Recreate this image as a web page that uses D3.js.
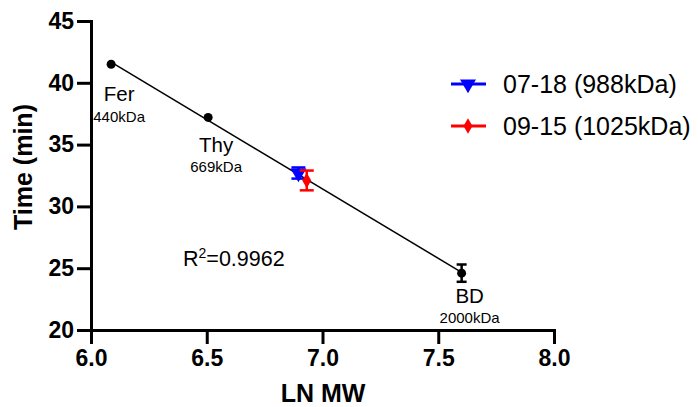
<!DOCTYPE html>
<html>
<head>
<meta charset="utf-8">
<script src="https://cdn.jsdelivr.net/npm/d3@7"></script>
<style>
  body { margin: 0; background: #fff; }
  svg { font-family: Arial, "Liberation Sans", sans-serif; }
  .axis path, .axis line { stroke: #000; stroke-width: 3px; }
  .axis text { font-weight: bold; font-size: 23px; fill: #000; }
</style>
</head>
<body>
<svg id="chart" width="698" height="407"></svg>
<script>
// standards
const stdNames = ["Fer", "Thy", "BD"];
const stdMW = ["440kDa", "669kDa", "2000kDa"];
const stdLnMW = [6.087, 6.506, 7.601];
const stdTime = [41.5, 37.2, 24.6];
const stdErr = [0, 0, 0.7];

// samples
const sampleNames = ["07-18 (988kDa)", "09-15 (1025kDa)"];
const sampleLnMW = [6.896, 6.932];
const sampleTime = [32.7, 32.1];
const sampleErr = [0.45, 0.8];
const sampleColors = ["#0000ff", "#ff0000"];

const xTicks = [6.0, 6.5, 7.0, 7.5, 8.0];
const yTicks = [20, 25, 30, 35, 40, 45];
const r2Label = "0.9962";

const svg = d3.select("#chart");

const x = d3.scaleLinear().domain([6, 8]).range([91, 554]);
const y = d3.scaleLinear().domain([20, 45]).range([330, 21]);

// axes
svg.append("g")
    .attr("class", "axis")
    .attr("transform", `translate(0, ${y(20)})`)
    .call(d3.axisBottom(x).tickValues(xTicks).tickFormat(d3.format(".1f")).tickSize(14).tickSizeOuter(0).tickPadding(6));

svg.append("g")
    .attr("class", "axis")
    .attr("transform", `translate(${x(6)}, 0)`)
    .call(d3.axisLeft(y).tickValues(yTicks).tickSize(14).tickSizeOuter(0).tickPadding(3));

svg.selectAll(".axis .domain").attr("stroke-linecap", "square");

// axis titles
svg.append("text")
    .attr("x", 323).attr("y", 402)
    .attr("text-anchor", "middle")
    .attr("font-weight", "bold").attr("font-size", 25)
    .text("LN MW");

svg.append("text")
    .attr("transform", "translate(32, 167) rotate(-90)")
    .attr("text-anchor", "middle")
    .attr("font-weight", "bold").attr("font-size", 25)
    .text("Time (min)");

// linear regression on standards
const mx = d3.mean(stdLnMW), my = d3.mean(stdTime);
const sxy = d3.sum(stdLnMW, (v, i) => (v - mx) * (stdTime[i] - my));
const sxx = d3.sum(stdLnMW, v => (v - mx) * (v - mx));
const slope = sxy / sxx, icpt = my - slope * mx;
const x0 = d3.min(stdLnMW), x1 = d3.max(stdLnMW);

svg.append("line")
    .attr("x1", x(x0)).attr("y1", y(icpt + slope * x0))
    .attr("x2", x(x1)).attr("y2", y(icpt + slope * x1))
    .attr("stroke", "#000").attr("stroke-width", 1.5);

// error bars helper
function errBar(g, cx, v, e, color, w) {
    if (!e) return;
    g.append("line").attr("x1", cx).attr("x2", cx)
        .attr("y1", y(v - e)).attr("y2", y(v + e))
        .attr("stroke", color).attr("stroke-width", 2.5);
    [v - e, v + e].forEach(t => {
        g.append("line").attr("x1", cx - w / 2).attr("x2", cx + w / 2)
            .attr("y1", y(t)).attr("y2", y(t))
            .attr("stroke", color).attr("stroke-width", 2.5);
    });
}

const marks = svg.append("g");

stdLnMW.forEach((v, i) => {
    errBar(marks, x(v), stdTime[i], stdErr[i], "#000", 10);
    marks.append("circle")
        .attr("cx", x(v)).attr("cy", y(stdTime[i])).attr("r", 4.5)
        .attr("fill", "#000");
});

const symbols = [d3.symbolTriangle, d3.symbolDiamond];
const symSize = [110, 70];
const symRot = [180, 0];

sampleLnMW.forEach((v, i) => {
    errBar(marks, x(v), sampleTime[i], sampleErr[i], sampleColors[i], 14);
    marks.append("path")
        .attr("d", d3.symbol().type(symbols[i]).size(symSize[i]))
        .attr("transform", `translate(${x(v)}, ${y(sampleTime[i])}) rotate(${symRot[i]})`)
        .attr("fill", sampleColors[i]);
});

// point labels
const labelOffsets = [[0, 37, 58], [0, 35, 55], [0, 30, 50]];
stdNames.forEach((n, i) => {
    const cx = x(stdLnMW[i]) + 8, cy = y(stdTime[i]);
    svg.append("text")
        .attr("x", cx).attr("y", cy + labelOffsets[i][1])
        .attr("text-anchor", "middle").attr("font-size", 20.5)
        .text(n);
    svg.append("text")
        .attr("x", cx).attr("y", cy + labelOffsets[i][2])
        .attr("text-anchor", "middle").attr("font-size", 15)
        .text(stdMW[i]);
});

// R squared
const r2 = svg.append("text")
    .attr("x", 183).attr("y", 266)
    .attr("font-size", 21.5);
r2.append("tspan").text("R");
r2.append("tspan").attr("dy", -8).attr("font-size", 14).text("2");
r2.append("tspan").attr("dy", 8).text("=" + r2Label);

// legend
const legend = svg.append("g");
sampleNames.forEach((n, i) => {
    const ly = 84 + i * 42;
    legend.append("line")
        .attr("x1", 451).attr("x2", 486).attr("y1", ly).attr("y2", ly)
        .attr("stroke", sampleColors[i]).attr("stroke-width", 3);
    legend.append("path")
        .attr("d", d3.symbol().type(symbols[i]).size(symSize[i]))
        .attr("transform", `translate(468, ${ly}) rotate(${symRot[i]})`)
        .attr("fill", sampleColors[i]);
    legend.append("text")
        .attr("x", 503).attr("y", ly + 9)
        .attr("font-size", 25)
        .text(n);
});
</script>
</body>
</html>
